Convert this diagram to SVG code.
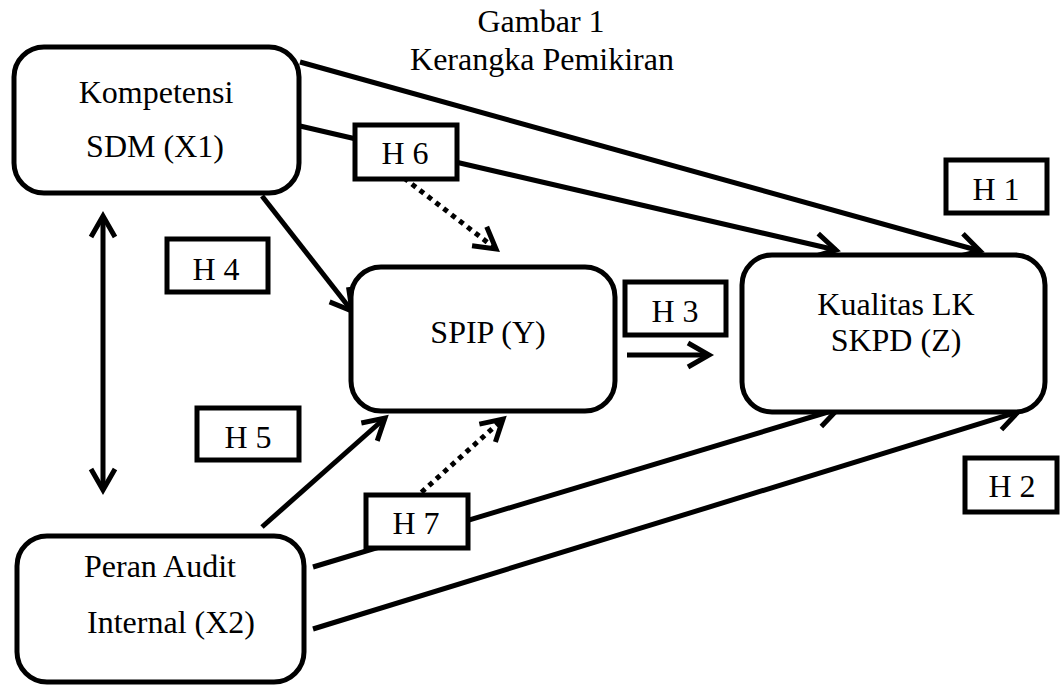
<svg xmlns="http://www.w3.org/2000/svg" width="1061" height="686" viewBox="0 0 1061 686">
<defs>
<marker id="ah" markerUnits="userSpaceOnUse" markerWidth="40" markerHeight="40" refX="0" refY="0" viewBox="-30 -20 40 40" orient="auto-start-reverse" overflow="visible">
<path d="M -21 -12 L 0 0 L -21 12" fill="none" stroke="#000" stroke-width="5" stroke-linecap="butt" stroke-linejoin="miter"/>
</marker>
</defs>
<style>
text{font-family:"Liberation Serif","Times New Roman",serif;font-size:32px;fill:#000;text-anchor:middle}
.node{fill:#fff;stroke:#000;stroke-width:5}
.hbox{fill:#fff;stroke:#000;stroke-width:5}
.c{fill:none;stroke:#000;stroke-width:5}
.d{fill:none;stroke:#000;stroke-width:5;stroke-dasharray:5 5}
</style>
<rect width="1061" height="686" fill="#fff"/>
<g id="title">
<text x="541" y="32">Gambar 1</text>
<text x="542" y="70">Kerangka Pemikiran</text>
</g>
<g id="connectors">
<line class="c" x1="300" y1="62" x2="980" y2="251" marker-end="url(#ah)"/>
<line class="c" x1="300" y1="126" x2="836" y2="250" marker-end="url(#ah)"/>
<line class="c" x1="262" y1="196" x2="352" y2="311" marker-end="url(#ah)"/>
<line class="d" x1="404" y1="178" x2="496" y2="249" marker-end="url(#ah)"/>
<line class="c" x1="103" y1="216" x2="103" y2="490" marker-start="url(#ah)" marker-end="url(#ah)"/>
<line class="c" x1="627" y1="355" x2="709" y2="355" marker-end="url(#ah)"/>
<line class="c" x1="262" y1="527" x2="385" y2="418" marker-end="url(#ah)"/>
<line class="d" x1="414" y1="499" x2="503" y2="419" marker-end="url(#ah)"/>
<line class="c" x1="313" y1="567" x2="838" y2="409" marker-end="url(#ah)"/>
<line class="c" x1="313" y1="629" x2="1018" y2="412" marker-end="url(#ah)"/>
</g>
<g id="n-x1"><rect class="node" x="14" y="47" width="285" height="146" rx="30"/><text x="156" y="103">Kompetensi</text><text x="155" y="157">SDM (X1)</text></g>
<g id="n-y"><rect class="node" x="351" y="267" width="264" height="144" rx="30"/><text x="488" y="343">SPIP (Y)</text></g>
<g id="n-z"><rect class="node" x="742" y="255" width="303" height="157" rx="30"/><text x="896" y="315">Kualitas LK</text><text x="896" y="351">SKPD (Z)</text></g>
<g id="n-x2"><rect class="node" x="17" y="536" width="287" height="146" rx="30"/><text x="160" y="577">Peran Audit</text><text x="171" y="633">Internal (X2)</text></g>
<g id="h6"><rect class="hbox" x="355" y="125" width="102" height="54"/><text x="405" y="164">H 6</text></g>
<g id="h4"><rect class="hbox" x="167" y="239" width="101" height="53"/><text x="216" y="280">H 4</text></g>
<g id="h3"><rect class="hbox" x="625" y="282" width="101" height="53"/><text x="675" y="322">H 3</text></g>
<g id="h1"><rect class="hbox" x="946" y="160" width="101" height="53"/><text x="996" y="200">H 1</text></g>
<g id="h5"><rect class="hbox" x="197" y="408" width="102" height="52"/><text x="248" y="448">H 5</text></g>
<g id="h7"><rect class="hbox" x="366" y="495" width="102" height="53"/><text x="416" y="534">H 7</text></g>
<g id="h2"><rect class="hbox" x="965" y="458" width="92" height="54"/><text x="1012" y="497">H 2</text></g>
</svg>
